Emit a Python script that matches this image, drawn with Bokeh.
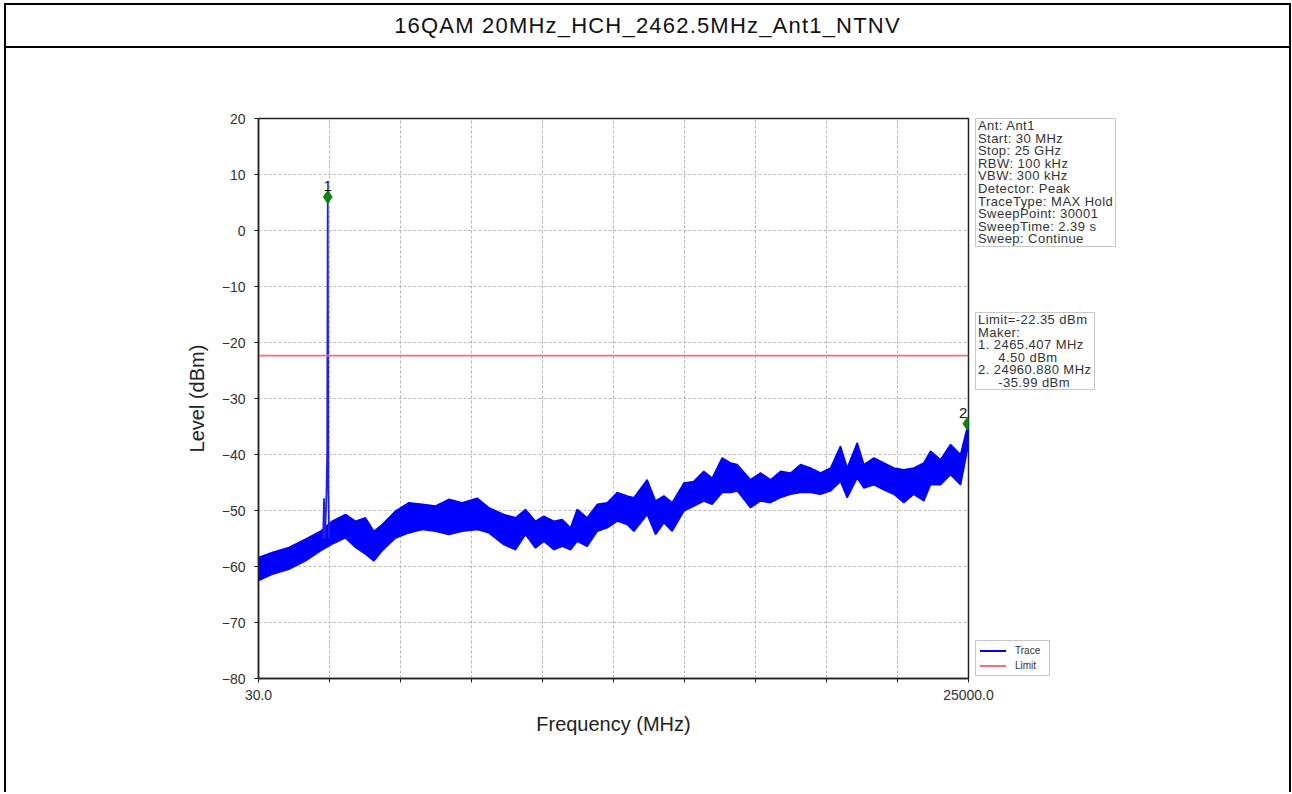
from bokeh.plotting import figure
from bokeh.models import Label, FixedTicker, Range1d, Div, Spacer
from bokeh.layouts import column, row
from bokeh.embed import file_html
from bokeh.resources import INLINE

title_text = "16QAM 20MHz_HCH_2462.5MHz_Ant1_NTNV"

start_freq = 30
stop_freq = 25000

freq = [30, 511, 1097, 1683, 2210, 2622, 3090, 3441, 3793, 4085, 4380, 4849, 5318, 5787, 6255,
        6724, 7193, 7720, 8130, 8658, 9070, 9420, 9772, 10065, 10417, 10711, 11003, 11238, 11590,
        11942, 12293, 12645, 12997, 13231, 13700, 13993, 14286, 14579, 14989, 15340, 15692, 15985,
        16337, 16630, 16865, 17334, 17686, 18037, 18389, 18741, 19092, 19444, 19796, 20148, 20499,
        20734, 21086, 21320, 21672, 22023, 22375, 22727, 23078, 23430, 23664, 24016, 24368, 24720,
        24954, 25000]
upper = [-58.4, -57.5, -56.6, -55.1, -53.7, -51.9, -50.7, -51.9, -51.3, -53.7, -52.5, -50.1, -48.6,
         -48.9, -49.2, -48.0, -48.6, -47.8, -49.5, -50.7, -51.3, -49.8, -51.9, -51.0, -51.9, -51.6,
         -53.1, -49.8, -51.3, -48.9, -48.6, -46.8, -47.4, -47.7, -44.5, -48.3, -47.4, -48.6, -45.1,
         -44.8, -43.0, -44.2, -40.6, -41.5, -41.8, -44.5, -43.3, -44.5, -43.0, -43.3, -41.8, -42.4,
         -43.3, -42.4, -38.5, -42.4, -37.9, -41.8, -40.6, -41.5, -42.4, -42.7, -42.4, -41.5, -39.4,
         -40.9, -38.2, -40.0, -35.2, -34.5]
lower = [-62.5, -61.4, -60.5, -59.0, -57.2, -56.0, -54.9, -56.6, -57.8, -59.0, -57.2, -54.9, -54.0,
         -53.4, -53.7, -54.3, -53.7, -53.4, -54.0, -56.1, -57.0, -54.3, -56.7, -55.5, -57.0, -56.4,
         -57.0, -55.5, -56.4, -53.7, -53.1, -51.9, -52.5, -53.7, -50.7, -54.3, -52.2, -53.7, -50.1,
         -49.2, -48.3, -48.9, -46.8, -46.8, -46.5, -49.5, -48.3, -48.6, -47.7, -47.1, -46.8, -46.8,
         -47.1, -46.5, -44.8, -47.7, -44.2, -46.0, -45.4, -46.3, -47.1, -48.6, -47.1, -48.3, -45.4,
         -45.4, -43.6, -45.4, -39.4, -38.5]

spike_freq = [2300, 2335, 2350, 2370, 2420, 2445, 2465.407, 2485, 2510]
spike_level = [-55.0, -47.8, -54.5, -55.0, -47.0, -40.0, 6.0, -45.0, -55.0]

marker_freq = [2465.407, 24960.880]
marker_level = [6.0, -34.5]
marker_names = ["1", "2"]
marker_align = ["center", "right"]

limit_level = -22.35

x_ticks = [30, 2527, 5024, 7521, 10018, 12515, 15012, 17509, 20006, 22503, 25000]
x_tick_labels = ["30.0", "", "", "", "", "", "", "", "", "", "25000.0"]
y_ticks = [-80, -70, -60, -50, -40, -30, -20, -10, 0, 10, 20]

info_lines = ["Ant: Ant1", "Start: 30 MHz", "Stop: 25 GHz", "RBW: 100 kHz", "VBW: 300 kHz",
              "Detector: Peak", "TraceType: MAX Hold", "SweepPoint: 30001",
              "SweepTime: 2.39 s", "Sweep: Continue"]
marker_lines = ["Limit=-22.35 dBm", "Maker:", "1. 2465.407 MHz", "&nbsp;&nbsp;&nbsp;&nbsp;&nbsp;4.50 dBm",
                "2. 24960.880 MHz", "&nbsp;&nbsp;&nbsp;&nbsp;&nbsp;-35.99 dBm"]
legend_labels = ["Trace", "Limit"]
trace_color = "#0000ff"
limit_color = "#f07070"

FONT = "Liberation Sans"
CONTENT_W = 1283
P_W = 992
OVERLAP = 23

# ---- title bar ----
title_div = Div(text=title_text, width=CONTENT_W, height=43, margin=0,
                styles={"box-sizing": "border-box", "border-bottom": "2px solid black",
                        "text-align": "center", "line-height": "41px",
                        "font-family": FONT, "font-size": "22px", "letter-spacing": "1.2px",
                        "color": "#111111"})

# ---- main chart ----
p = figure(width=P_W, height=744, output_backend="svg", toolbar_location=None,
           x_range=Range1d(start_freq, stop_freq), y_range=Range1d(-80, 20),
           min_border_left=252, min_border_right=P_W - 252 - 710,
           min_border_top=70, min_border_bottom=114)
p.outline_line_color = "#222222"
p.outline_line_width = 1.5

p.xaxis.ticker = FixedTicker(ticks=x_ticks)
p.xaxis.major_label_overrides = {t: l for t, l in zip(x_ticks, x_tick_labels)}
p.yaxis.ticker = FixedTicker(ticks=y_ticks)
for ax in (p.xaxis, p.yaxis):
    ax.axis_line_color = "#222222"
    ax.axis_line_width = 1.5
    ax.major_tick_line_color = "#222222"
    ax.major_tick_out = 4
    ax.major_tick_in = 0
    ax.minor_tick_line_color = None
    ax.major_label_text_font = FONT
    ax.major_label_text_font_size = "14px"
    ax.major_label_text_color = "#333333"
    ax.axis_label_text_font = FONT
    ax.axis_label_text_font_size = "20px"
    ax.axis_label_text_font_style = "normal"
    ax.axis_label_text_color = "#222222"
p.xaxis.axis_label = "Frequency (MHz)"
p.yaxis.axis_label = "Level (dBm)"
p.xaxis.axis_label_standoff = 10
p.yaxis.axis_label_standoff = 11
p.xaxis.major_label_standoff = 7
p.yaxis.major_label_standoff = 9

p.grid.grid_line_color = "#b8b8b8"
p.grid.grid_line_dash = "3 2"
p.grid.grid_line_width = 1

p.varea(x=freq, y1=lower, y2=upper, fill_color=trace_color, fill_alpha=1.0)
p.line(x=freq, y=upper, line_color=trace_color, line_width=1.5)
p.line(x=freq, y=lower, line_color=trace_color, line_width=1.5)
p.line(x=spike_freq, y=spike_level, line_color="#2020e0", line_width=1.8)
p.line(x=[start_freq, stop_freq], y=[limit_level, limit_level],
       line_color=limit_color, line_width=1.6)
p.scatter(x=marker_freq, y=marker_level, marker="diamond", size=13, color="#108010")

for f, lv, nm, al in zip(marker_freq, marker_level, marker_names, marker_align):
    p.add_layout(Label(x=f, y=lv + 2.0, text=nm, text_align=al, text_baseline="alphabetic",
                       text_font=FONT, text_font_size="15px", text_color="#111111"))

# ---- right-hand boxes ----
box_style = {"box-sizing": "border-box", "border": "1px solid #c8c8c8", "background": "white",
             "padding": "1px 2px", "font-family": FONT, "font-size": "13px",
             "letter-spacing": "0.45px",
             "line-height": "12.6px", "color": "#333333", "white-space": "nowrap"}
info_div = Div(text="<br>".join(info_lines), width=141, height=129, margin=0, styles=box_style)
marker_div = Div(text="<br>".join(marker_lines), width=120, height=78, margin=0, styles=box_style)

leg_rows = []
for lab, col in zip(legend_labels, [trace_color, limit_color]):
    leg_rows.append(
        "<div style='height:15px;line-height:15px;white-space:nowrap'>"
        "<span style='display:inline-block;width:26px;height:0;border-top:2px solid %s;"
        "vertical-align:middle;margin-right:9px'></span>%s</div>" % (col, lab))
leg_style = dict(box_style)
leg_style.update({"font-size": "10px", "padding": "2px 4px", "line-height": "15px",
                  "letter-spacing": "0px"})
legend_div = Div(text="".join(leg_rows), width=75, height=36, margin=0, styles=leg_style)

right_col = column(Spacer(height=70, margin=0), info_div, Spacer(height=65, margin=0), marker_div,
                   Spacer(height=250, margin=0), legend_div,
                   width=CONTENT_W - P_W + OVERLAP, spacing=0,
                   styles={"margin-left": "-%dpx" % OVERLAP})

layout = column(title_div, row(p, right_col, spacing=0), spacing=0,
                styles={"border-left": "2px solid black", "border-right": "2px solid black",
                        "border-top": "2px solid black", "margin-left": "4px",
                        "margin-top": "3px"})

open("out.html", "w").write(file_html(layout, INLINE))
